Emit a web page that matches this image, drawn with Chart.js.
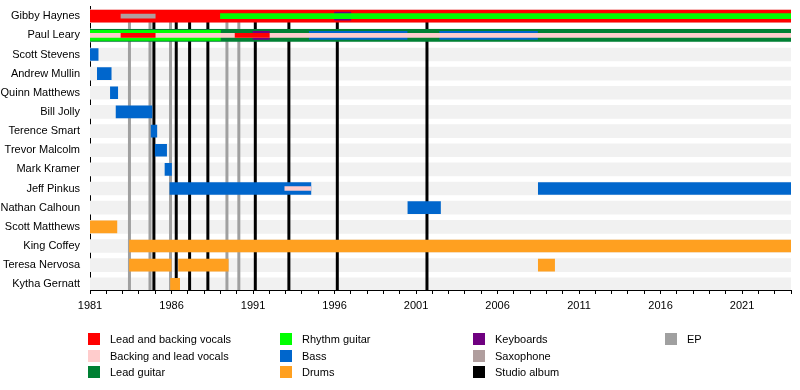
<!DOCTYPE html>
<html>
<head>
<meta charset="utf-8">
<script src="https://cdn.jsdelivr.net/npm/chart.js@4.4.1/dist/chart.umd.min.js"></script>
<style>
  body { margin: 0; background: #fff; }
  #wrap { position: relative; width: 800px; height: 390px; }
  #myChart { position: absolute; left: 0; top: 0; }
  .key { position: absolute; font: 11px 'Liberation Sans', Arial, sans-serif; color: #000; white-space: nowrap; line-height: 12px; }
  .key span { display: inline-block; width: 12px; height: 12px; vertical-align: top; margin-right: 10px; }
</style>
</head>
<body>
<div id="wrap">
  <canvas id="myChart" width="800" height="390"></canvas>
</div>
<script>
const members = ['Gibby Haynes', 'Paul Leary', 'Scott Stevens', 'Andrew Mullin', 'Quinn Matthews', 'Bill Jolly',
  'Terence Smart', 'Trevor Malcolm', 'Mark Kramer', 'Jeff Pinkus', 'Nathan Calhoun', 'Scott Matthews',
  'King Coffey', 'Teresa Nervosa', 'Kytha Gernatt'];

// [member index, from, to]
const leadBackingVocals = [[0, 1981, 2024], [1, 1982.9, 1985], [1, 1989.9, 1992]];
const backingLeadVocals = [[1, 1981, 2024], [9, 1992.95, 1994.55]];
const leadGuitar = [[1, 1981, 2024]];
const rhythmGuitar = [[1, 1981, 1989], [0, 1989, 2024]];
const bass = [[2, 1981, 1981.5], [3, 1981.45, 1982.3], [4, 1982.25, 1982.7], [5, 1982.6, 1984.8],
  [6, 1984.75, 1985.1], [7, 1985, 1985.7], [8, 1985.6, 1986], [9, 1985.9, 1994.55], [9, 2008.5, 2024],
  [10, 2000.5, 2002.5], [1, 1994.45, 2000.45], [1, 2002.45, 2008.45]];
const drums = [[11, 1981, 1982.65], [12, 1983.42, 2024], [13, 1983.42, 1985.98], [13, 1986.43, 1989.48],
  [13, 2008.5, 2009.5], [14, 1985.94, 1986.5]];
const keyboards = [[0, 1996, 1997], [1, 1991, 1992]];
const saxophone = [[0, 1982.9, 1985]];
const studioAlbums = [1984.92, 1986.29, 1987.11, 1988.23, 1991.14, 1993.2, 1996.17, 2001.67];
const eps = [1983.42, 1984.68, 1985.94, 1989.4, 1990.13];

const COLORS = {
  leadVocals: '#ff0000',
  backingVocals: '#ffcccc',
  leadGuitar: '#008033',
  rhythm: '#00ff00',
  bass: '#0066cc',
  drums: '#ffa020',
  keyboards: '#6f0080',
  sax: '#b09e9e',
  studio: '#000000',
  ep: '#a0a0a0'
};

function bars(rows, color, thickness, order, keep) {
  return {
    type: 'bar',
    indexAxis: 'y',
    grouped: false,
    data: rows.filter(keep || (() => true)).map(([m, s, e]) => ({ y: m, x: [s, e] })),
    backgroundColor: color,
    borderWidth: 0,
    barThickness: thickness,
    order: order
  };
}

function vline(x, color, order) {
  return {
    type: 'line',
    indexAxis: 'x',
    data: [{ x: x, y: -0.3 }, { x: x, y: 14.3 }],
    borderColor: color,
    borderWidth: 3,
    pointRadius: 0,
    order: order
  };
}

const stripes = members.map((_, i) => [i, 1981, 2024]);

const datasets = [
  bars(stripes, '#f1f1f1', 13, 40),
  ...eps.map(x => vline(x, COLORS.ep, 31)),
  ...studioAlbums.map(x => vline(x, COLORS.studio, 30)),
  bars(leadBackingVocals, COLORS.leadVocals, 12, 20, r => r[0] === 0),
  bars(leadGuitar, COLORS.leadGuitar, 12, 20),
  bars(bass, COLORS.bass, 12, 20, r => r[0] !== 1),
  bars(drums, COLORS.drums, 12, 20),
  bars(rhythmGuitar, COLORS.rhythm, 10, 16, r => r[0] === 1),
  bars(bass, COLORS.bass, 8, 16, r => r[0] === 1),
  bars(keyboards, COLORS.keyboards, 8, 14),
  bars(rhythmGuitar, COLORS.rhythm, 5, 12, r => r[0] === 0),
  bars(saxophone, COLORS.sax, 4, 12),
  bars(backingLeadVocals, COLORS.backingVocals, 4, 10),
  bars(leadBackingVocals, COLORS.leadVocals, 4, 8, r => r[0] === 1)
];

Chart.defaults.font.family = "'Liberation Sans', Arial, sans-serif";
Chart.defaults.font.size = 11;
Chart.defaults.color = '#000';

const config = {
  type: 'bar',
  data: { datasets: datasets },
  options: {
    responsive: false,
    animation: false,
    indexAxis: 'y',
    layout: { padding: { top: 0, right: 9, bottom: 80, left: 0 } },
    plugins: {
      legend: { display: false },
      tooltip: { enabled: false }
    },
    scales: {
      x: {
        type: 'linear',
        bounds: 'data',
        offset: false,
        min: 1981,
        max: 2024,
        afterBuildTicks: s => {
          const t = [];
          for (let y = 1981; y <= 2024; y++) t.push({ value: y });
          s.ticks = t;
        },
        afterFit: s => { s.height = 20; },
        ticks: {
          autoSkip: false,
          maxRotation: 0,
          padding: 5,
          callback: v => ((v - 1981) % 5 === 0 ? String(v) : '')
        },
        grid: { drawOnChartArea: false, drawTicks: true, tickLength: 4, color: '#000', offset: false },
        border: { display: true, color: '#000', width: 1 }
      },
      y: {
        type: 'linear',
        bounds: 'data',
        offset: false,
        reverse: true,
        min: -0.5,
        max: 14.3,
        afterBuildTicks: s => { s.ticks = members.map((_, i) => ({ value: i })); },
        afterFit: s => { s.width = 90; },
        ticks: {
          autoSkip: false,
          padding: 0,
          callback: v => members[v] || ''
        },
        grid: { display: false, drawTicks: true, tickLength: 10, offset: false },
        border: { display: true, color: '#000', width: 1 }
      }
    }
  }
};

const myChart = new Chart(document.getElementById('myChart'), config);

// legend, laid out in columns like the original
const legendItems = [
  ['Lead and backing vocals', COLORS.leadVocals], ['Backing and lead vocals', COLORS.backingVocals], ['Lead guitar', COLORS.leadGuitar],
  ['Rhythm guitar', COLORS.rhythm], ['Bass', COLORS.bass], ['Drums', COLORS.drums],
  ['Keyboards', COLORS.keyboards], ['Saxophone', COLORS.sax], ['Studio album', COLORS.studio],
  ['EP', COLORS.ep]
];
const colX = [88, 280, 473, 665];
const rowY = [333, 350, 366];
const wrap = document.getElementById('wrap');
legendItems.forEach(([text, color], i) => {
  const d = document.createElement('div');
  d.className = 'key';
  d.style.left = colX[Math.floor(i / 3)] + 'px';
  d.style.top = rowY[i % 3] + 'px';
  d.innerHTML = '<span style="background:' + color + '"></span>' + text;
  wrap.appendChild(d);
});
</script>
</body>
</html>
